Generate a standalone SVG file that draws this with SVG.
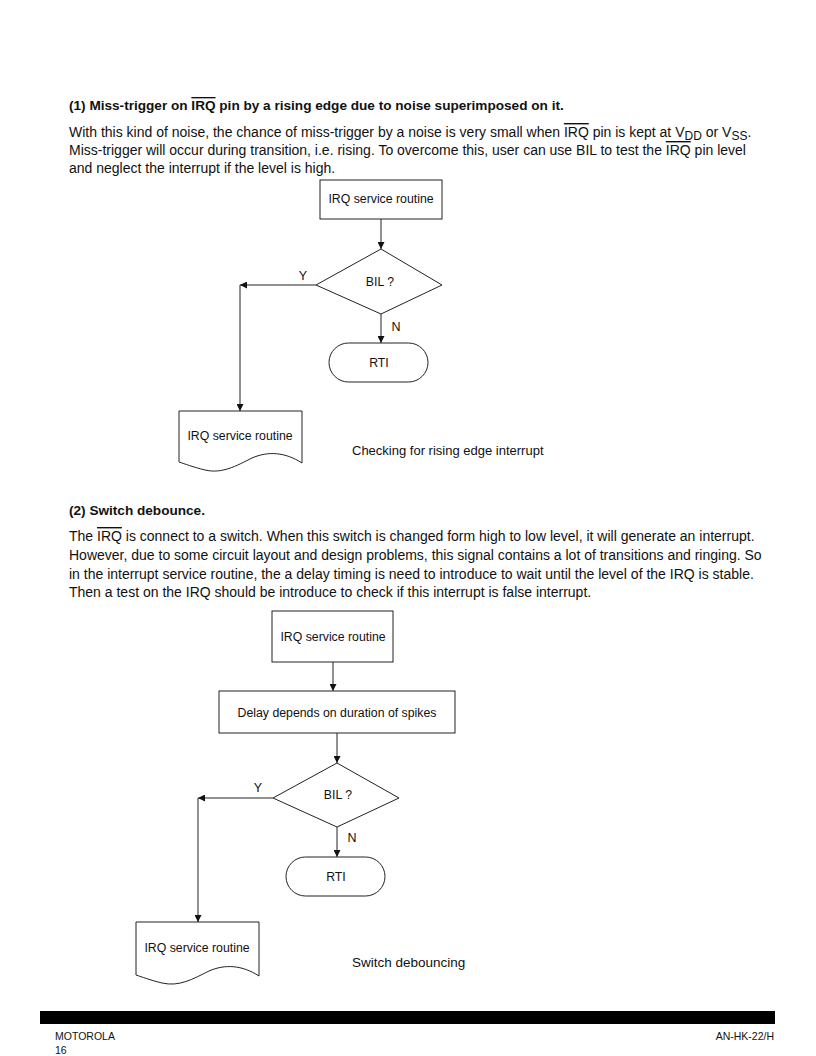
<svg xmlns="http://www.w3.org/2000/svg" width="816" height="1056" viewBox="0 0 816 1056">
<defs>
<marker id="ah" viewBox="0 0 10 10" refX="10" refY="5" markerWidth="7" markerHeight="7" orient="auto" markerUnits="userSpaceOnUse">
<path d="M0,0 L10,5 L0,10 z" fill="#111"/>
</marker>
<style>
text{font-family:"Liberation Sans",Arial,sans-serif;fill:#111}
.t{font-size:13.6px;font-weight:bold}
.p{font-size:14px}
.n{font-size:12.3px;text-anchor:middle}
.c{font-size:13px}
.yn{font-size:12.5px;text-anchor:middle}
.ft{font-size:10.5px}
.ov{text-decoration:overline}
.s{fill:#fff;stroke:#222;stroke-width:1}
.ln{fill:none;stroke:#222;stroke-width:1;marker-end:url(#ah)}
</style>
</defs>
<rect width="816" height="1056" fill="#fff"/>

<g id="text1">
<text class="t" x="69" y="110">(1) Miss-trigger on <tspan class="ov">IRQ</tspan> pin by a rising edge due to noise superimposed on it.</text>
<text class="p" x="69" y="137">With this kind of noise, the chance of miss-trigger by a noise is very small when <tspan class="ov">IRQ</tspan> pin is kept at V<tspan dy="3" font-size="12">DD</tspan><tspan dy="-3"> or V</tspan><tspan dy="3" font-size="12">SS</tspan><tspan dy="-3">.</tspan></text>
<text class="p" x="69" y="155">Miss-trigger will occur during transition, i.e. rising. To overcome this, user can use BIL to test the <tspan class="ov">IRQ</tspan> pin level</text>
<text class="p" x="69" y="173">and neglect the interrupt if the level is high.</text>
</g>

<g id="connectors1">
<line class="ln" x1="381" y1="219" x2="381" y2="249"/>
<line class="ln" x1="316" y1="285" x2="240" y2="285"/>
<line class="ln" x1="240" y1="285" x2="240" y2="411"/>
<line class="ln" x1="381" y1="314" x2="381" y2="343"/>
<text class="yn" x="303" y="280">Y</text>
<text class="yn" x="396" y="331">N</text>
</g>

<g id="box1">
<rect class="s" x="320" y="180" width="122" height="39"/>
<text class="n" x="381" y="203">IRQ service routine</text>
</g>
<g id="dec1">
<polygon class="s" points="381,249 442,285 381,314 316,285"/>
<text class="n" x="380" y="286">BIL ?</text>
</g>
<g id="rti1">
<rect class="s" x="329" y="343" width="99" height="39" rx="19.5"/>
<text class="n" x="379" y="367">RTI</text>
</g>
<g id="doc1">
<path class="s" d="M179,411 H302 V463 C285,452 268,451 252,458 C236,466 222,474 205,470 C193,467 185,464 179,462 Z"/>
<text class="n" x="240" y="440">IRQ service routine</text>
</g>
<text class="c" x="352" y="455">Checking for rising edge interrupt</text>

<g id="text2">
<text class="t" x="69" y="515">(2) Switch debounce.</text>
<text class="p" x="69" y="541">The <tspan class="ov">IRQ</tspan> is connect to a switch. When this switch is changed form high to low level, it will generate an interrupt.</text>
<text class="p" x="69" y="560">However, due to some circuit layout and design problems, this signal contains a lot of transitions and ringing. So</text>
<text class="p" x="69" y="579">in the interrupt service routine, the a delay timing is need to introduce to wait until the level of the IRQ is stable.</text>
<text class="p" x="69" y="597">Then a test on the IRQ should be introduce to check if this interrupt is false interrupt.</text>
</g>

<g id="connectors2">
<line class="ln" x1="333" y1="662" x2="333" y2="691"/>
<line class="ln" x1="337" y1="733" x2="337" y2="763"/>
<line class="ln" x1="273" y1="798" x2="198" y2="798"/>
<line class="ln" x1="198" y1="798" x2="198" y2="922"/>
<line class="ln" x1="337" y1="827" x2="337" y2="857"/>
<text class="yn" x="258" y="792">Y</text>
<text class="yn" x="352" y="842">N</text>
</g>

<g id="box2">
<rect class="s" x="272" y="611" width="121" height="51"/>
<text class="n" x="333" y="641">IRQ service routine</text>
</g>
<g id="delay">
<rect class="s" x="219" y="691" width="236" height="42"/>
<text class="n" x="337" y="717">Delay depends on duration of spikes</text>
</g>
<g id="dec2">
<polygon class="s" points="337,763 399,798 337,827 273,798"/>
<text class="n" x="338" y="799">BIL ?</text>
</g>
<g id="rti2">
<rect class="s" x="286" y="857" width="99" height="39" rx="19.5"/>
<text class="n" x="336" y="881">RTI</text>
</g>
<g id="doc2">
<path class="s" d="M136,922 H259 V976 C242,965 225,964 209,971 C193,979 179,987 162,983 C150,980 142,977 136,975 Z"/>
<text class="n" x="197" y="952">IRQ service routine</text>
</g>
<text x="352" y="967" font-size="13.5">Switch debouncing</text>

<g id="footer">
<rect x="40" y="1011" width="735" height="13" fill="#000"/>
<text class="ft" x="55" y="1040">MOTOROLA</text>
<text class="ft" x="55" y="1054">16</text>
<text class="ft" x="774" y="1040" text-anchor="end">AN-HK-22/H</text>
</g>
</svg>
